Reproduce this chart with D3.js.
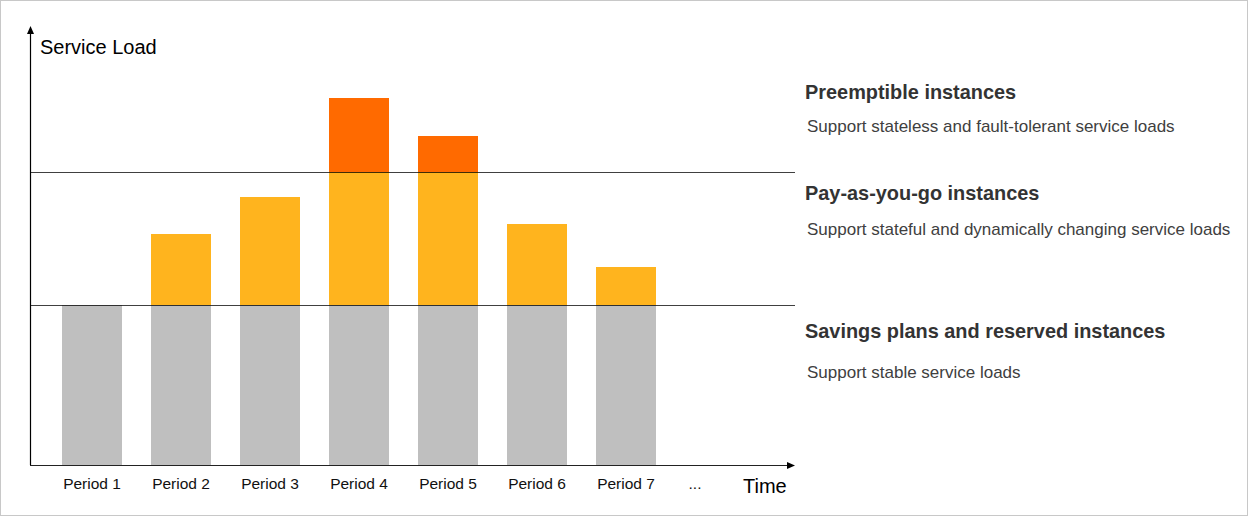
<!DOCTYPE html>
<html>
<head>
<meta charset="utf-8">
<script src="https://cdn.jsdelivr.net/npm/d3@7"></script>
<style>
  html, body { margin: 0; padding: 0; background: #fff; }
  svg { display: block; }
  text { font-family: Arial, "Liberation Sans", sans-serif; }
</style>
</head>
<body>
<svg id="chart" width="1248" height="516"></svg>
<script>
// ---- data ----
const periods = ["Period 1", "Period 2", "Period 3", "Period 4", "Period 5", "Period 6", "Period 7"];
const reserved = [40, 40, 40, 40, 40, 40, 40];
const payAsYouGo = [0, 17.75, 27, 33.25, 33.25, 20.25, 9.5];
const preemptible = [0, 0, 0, 18.5, 9, 0, 0];
const thresholds = [40, 73.25];
const seriesNames = ["reserved", "payg", "preempt"];
const seriesColors = ["#bfbfbf", "#ffb41e", "#ff6a00"];
const legendTitles = ["Preemptible instances", "Pay-as-you-go instances", "Savings plans and reserved instances"];
const legendNotes = ["Support stateless and fault-tolerant service loads", "Support stateful and dynamically changing service loads", "Support stable service loads"];
const yTitle = "Service Load";
const xTitle = "Time";
const moreLabel = "...";

// ---- layout ----
const W = 1248, H = 516;
const svg = d3.select("#chart");

svg.append("rect").attr("x", 0.5).attr("y", 0.5).attr("width", W - 1).attr("height", H - 1)
  .attr("fill", "#fff").attr("stroke", "#c8c8c8");

const y = d3.scaleLinear().domain([0, 110]).range([465, 25]);
const x = d3.scaleBand().domain(periods).range([47.5, 670.5]).paddingInner(29 / 89).paddingOuter(29 / 178);
const color = d3.scaleOrdinal().domain(seriesNames).range(seriesColors);

const rows = periods.map((p, i) => ({ period: p, reserved: reserved[i], payg: payAsYouGo[i], preempt: preemptible[i] }));
const stack = d3.stack().keys(seriesNames)(rows);

svg.append("g").selectAll("g").data(stack).join("g")
  .attr("fill", d => color(d.key))
  .selectAll("rect").data(d => d.filter(s => s[1] > s[0])).join("rect")
  .attr("x", d => x(d.data.period))
  .attr("width", x.bandwidth())
  .attr("y", d => y(d[1]))
  .attr("height", d => y(d[0]) - y(d[1]));

const axisX0 = 30, axisX1 = 795, baseY = y(0);

// threshold lines
svg.append("g").selectAll("line").data(thresholds).join("line")
  .attr("x1", axisX0).attr("x2", axisX1)
  .attr("y1", d => Math.round(y(d)) + 0.5).attr("y2", d => Math.round(y(d)) + 0.5)
  .attr("stroke", "#000").attr("stroke-opacity", 0.75).attr("stroke-width", 1);

// axes
svg.append("line").attr("x1", axisX0 + 0.5).attr("x2", axisX0 + 0.5).attr("y1", baseY).attr("y2", 33)
  .attr("stroke", "#000").attr("stroke-width", 1.2);
svg.append("path").attr("d", `M${axisX0 + 0.5},26 L${axisX0 - 3},34 L${axisX0 + 4},34 Z`).attr("fill", "#000");
svg.append("line").attr("x1", axisX0).attr("x2", axisX1 - 7).attr("y1", baseY + 0.5).attr("y2", baseY + 0.5)
  .attr("stroke", "#222").attr("stroke-width", 1.2);
svg.append("path").attr("d", `M${axisX1},${baseY + 0.5} L${axisX1 - 8},${baseY - 3} L${axisX1 - 8},${baseY + 4} Z`).attr("fill", "#000");

// x labels via axis
const xAxis = d3.axisBottom(x).tickSize(0).tickPadding(0);
const gx = svg.append("g").attr("transform", `translate(0,${baseY})`).call(xAxis);
gx.select(".domain").remove();
gx.selectAll("text").attr("font-size", 15.5).attr("fill", "#111")
  .attr("font-family", "Arial, 'Liberation Sans', sans-serif").attr("dy", null).attr("y", 24);

svg.append("text").attr("x", x.range()[1] + 24.5).attr("y", baseY + 24).attr("text-anchor", "middle")
  .attr("font-size", 15.5).attr("fill", "#111").text(moreLabel);

svg.append("text").attr("x", 40).attr("y", 54).attr("font-size", 20).attr("fill", "#000").text(yTitle);
svg.append("text").attr("x", 743).attr("y", 493).attr("font-size", 20).attr("fill", "#000").text(xTitle);

// right-hand descriptions
const titleY = [99, 200, 338];
const noteY = [132, 235, 378];
const gl = svg.append("g");
gl.selectAll("text.t").data(legendTitles).join("text").attr("class", "t")
  .attr("x", 805).attr("y", (d, i) => titleY[i])
  .attr("font-size", 19.9).attr("font-weight", "bold").attr("fill", "#333").text(d => d);
gl.selectAll("text.n").data(legendNotes).join("text").attr("class", "n")
  .attr("x", 807).attr("y", (d, i) => noteY[i])
  .attr("font-size", 17).attr("fill", "#404040").text(d => d);
</script>
</body>
</html>
